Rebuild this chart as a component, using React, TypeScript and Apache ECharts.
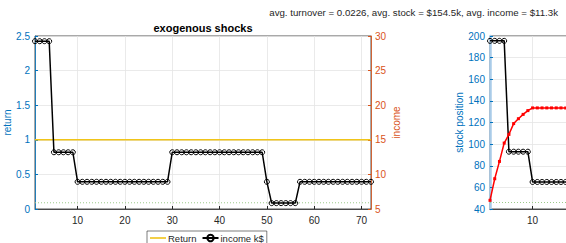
import React, { useEffect, useRef } from "react";
import * as echarts from "echarts";

// ---- data ----
const xTicks = [10, 20, 30, 40, 50, 60, 70];
const xTicksRightVisible = [10];
const returnLine = [[1, 1], [72, 1]];
const incomeK = [
  29.25, 29.25, 29.25, 29.25,
  13.2, 13.2, 13.2, 13.2, 13.2,
  8.93, 8.93, 8.93, 8.93, 8.93, 8.93, 8.93, 8.93, 8.93, 8.93,
  8.93, 8.93, 8.93, 8.93, 8.93, 8.93, 8.93, 8.93, 8.93, 8.93,
  13.2, 13.2, 13.2, 13.2, 13.2, 13.2, 13.2, 13.2, 13.2, 13.2,
  13.2, 13.2, 13.2, 13.2, 13.2, 13.2, 13.2, 13.2, 13.2, 13.2,
  8.93,
  5.85, 5.85, 5.85, 5.85, 5.85, 5.85,
  8.93, 8.93, 8.93, 8.93, 8.93, 8.93, 8.93, 8.93,
  8.93, 8.93, 8.93, 8.93, 8.93, 8.93, 8.93, 8.93,
];
const incomeFloor = [[1, 5.9], [72, 5.9]];
const stockPosition = [
  195.5, 195.5, 195.5, 195.5,
  93, 93, 93, 93, 93,
  65, 65, 65, 65, 65, 65, 65, 65, 65, 65, 65,
];
const stockTarget = [
  48, 68, 84, 101, 109, 119, 123.5, 127.5, 131, 133.5,
  133.5, 133.5, 133.5, 133.5, 133.5, 133.5, 133.5, 133.5, 133.5, 133.5,
];
const stockFloor = [[1, 46], [72, 46]];
const summaryText = "avg. turnover = 0.0226, avg. stock = $154.5k, avg. income = $11.3k";
const titleText = "exogenous shocks";

const BLUE = "#0072BD";
const ORANGE = "#D95319";
const YELLOW = "#F0C419";
const DARK = "#262626";
const GRIDC = "#e4e4e4";
const FONT = "Liberation Sans";

const toPairs = (arr: number[]) => arr.map((v, i) => [i + 1, v]);

export default function App() {
  const ref = useRef<HTMLDivElement>(null);
  useEffect(() => {
    if (!ref.current) return;
    const chart = echarts.init(ref.current, undefined, { renderer: "svg" });
    const xAxisBase = (gridIndex: number, labelValues: number[]) => ({
      gridIndex,
      type: "value",
      min: 1,
      max: 72,
      axisLine: { show: true, lineStyle: { color: DARK, width: 0.8 } },
      axisTick: { show: true, inside: true, length: 3, customValues: xTicks, lineStyle: { color: DARK } },
      axisLabel: { customValues: labelValues, color: DARK, fontSize: 10, margin: 6, fontFamily: FONT },
      splitLine: { show: true, lineStyle: { color: GRIDC, width: 0.8 } },
    });
    const option: any = {
      animation: false,
      textStyle: { fontFamily: FONT },
      grid: [
        { left: 35, top: 36, width: 336, height: 173, show: true, borderColor: DARK, borderWidth: 0.8 },
        { left: 490, top: 36, width: 336, height: 173, show: true, borderColor: DARK, borderWidth: 0.8 },
      ],
      xAxis: [xAxisBase(0, xTicks), xAxisBase(1, xTicksRightVisible)],
      yAxis: [
        {
          gridIndex: 0, type: "value", min: 0, max: 2.5, interval: 0.5, position: "left",
          name: "return", nameLocation: "middle", nameGap: 23,
          nameTextStyle: { color: BLUE, fontSize: 10, fontFamily: FONT },
          axisLine: { show: true, lineStyle: { color: BLUE, width: 0.8 } },
          axisTick: { show: true, inside: true, length: 3 },
          axisLabel: { color: BLUE, fontSize: 10, margin: 5, fontFamily: FONT },
          splitLine: { show: true, lineStyle: { color: GRIDC, width: 0.8 } },
        },
        {
          gridIndex: 0, type: "value", min: 5, max: 30, interval: 5, position: "right",
          name: "income", nameLocation: "middle", nameGap: 20,
          nameTextStyle: { color: ORANGE, fontSize: 10, fontFamily: FONT },
          axisLine: { show: true, lineStyle: { color: ORANGE, width: 0.8 } },
          axisTick: { show: true, inside: true, length: 3 },
          axisLabel: { color: ORANGE, fontSize: 10, margin: 4, fontFamily: FONT },
          splitLine: { show: false },
        },
        {
          gridIndex: 1, type: "value", min: 40, max: 200, interval: 20, position: "left",
          name: "stock position", nameLocation: "middle", nameGap: 26,
          nameTextStyle: { color: BLUE, fontSize: 10, fontFamily: FONT },
          axisLine: { show: true, lineStyle: { color: "#a9cbe8", width: 2.5 } },
          axisTick: { show: true, inside: true, length: 3, lineStyle: { color: BLUE } },
          axisLabel: { color: BLUE, fontSize: 10, margin: 5, fontFamily: FONT },
          splitLine: { show: true, lineStyle: { color: GRIDC, width: 0.8 } },
        },
      ],
      legend: {
        data: [
          { name: "Return", icon: "path://M0,0H16V1.6H0Z" },
          { name: "income k$" },
        ],
        left: 147,
        top: 231,
        orient: "horizontal",
        padding: [2, 3, 2, 3],
        itemGap: 5,
        itemWidth: 16,
        itemHeight: 8,
        borderColor: DARK,
        borderWidth: 0.6,
        backgroundColor: "#fff",
        textStyle: { fontSize: 9.5, color: DARK, fontFamily: FONT, padding: [0, 0, 0, -3] },
      },
      graphic: [
        {
          type: "text", x: 558, y: 12,
          style: { text: summaryText, align: "right", verticalAlign: "middle", fontSize: 9.7, fontFamily: FONT, fill: DARK },
        },
        {
          type: "text", x: 203, y: 28,
          style: { text: titleText, align: "center", verticalAlign: "middle", fontSize: 11, fontWeight: "bold", fontFamily: FONT, fill: "#000" },
        },
      ],
      series: [
        {
          name: "Return", type: "line", xAxisIndex: 0, yAxisIndex: 0, data: returnLine,
          symbol: "none", lineStyle: { color: YELLOW, width: 1.5 }, itemStyle: { color: YELLOW },
        },
        {
          name: "floor", type: "line", xAxisIndex: 0, yAxisIndex: 1, data: incomeFloor,
          symbol: "none", lineStyle: { color: "#9cc98a", width: 1, type: [1, 2] },
        },
        {
          name: "income k$", type: "line", xAxisIndex: 0, yAxisIndex: 1, data: toPairs(incomeK),
          symbol: "circle", symbolSize: 5,
          lineStyle: { color: "#000", width: 1.5 },
          itemStyle: { color: "transparent", borderColor: "#000", borderWidth: 1 },
        },
        {
          name: "stockFloor", type: "line", xAxisIndex: 1, yAxisIndex: 2, data: stockFloor,
          symbol: "none", lineStyle: { color: "#9cc98a", width: 1, type: [1, 2] },
        },
        {
          name: "stock", type: "line", xAxisIndex: 1, yAxisIndex: 2, data: toPairs(stockPosition),
          symbol: "circle", symbolSize: 5,
          lineStyle: { color: "#000", width: 1.5 },
          itemStyle: { color: "transparent", borderColor: "#000", borderWidth: 1 },
        },
        {
          name: "target", type: "line", xAxisIndex: 1, yAxisIndex: 2, data: toPairs(stockTarget),
          symbol: "rect", symbolSize: 3,
          lineStyle: { color: "#ff0000", width: 1.5 },
          itemStyle: { color: "#ff0000" },
        },
      ],
    };
    chart.setOption(option);
    return () => chart.dispose();
  }, []);
  return (
    <div style={{ position: "fixed", left: 0, top: 0, width: 566, height: 243, background: "#fff", overflow: "hidden" }}>
      <div ref={ref} style={{ width: 900, height: 243 }} />
    </div>
  );
}
